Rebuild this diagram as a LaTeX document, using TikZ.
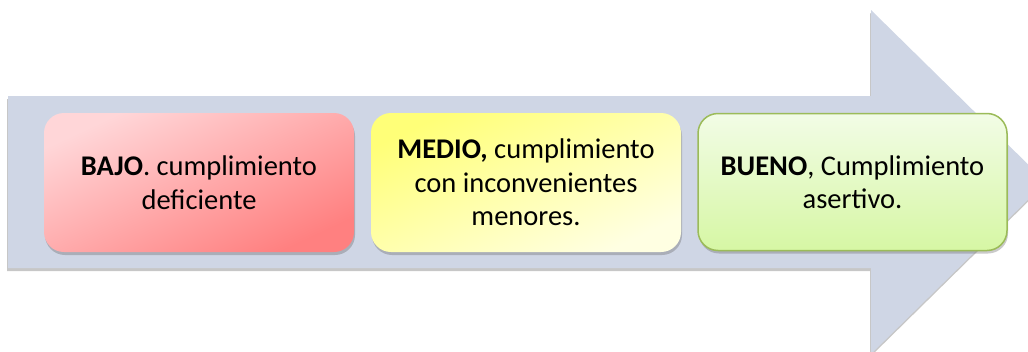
\documentclass[tikz,border=0pt]{standalone}
\usepackage{fontspec}
\setmainfont{Carlito}
\usetikzlibrary{shadows,calc}
\definecolor{arrowcol}{HTML}{CFD6E5}
\definecolor{redA}{HTML}{FFD6D8}
\definecolor{redB}{HTML}{FF8080}
\definecolor{yelA}{HTML}{FFFF78}
\definecolor{yelB}{HTML}{FFFFE2}
\definecolor{grnA}{HTML}{F2FCE6}
\definecolor{grnB}{HTML}{D6F7A4}
\definecolor{grnE}{HTML}{9BBB59}
\tikzset{
  x=1pt,y=-1pt,
  stagebox/.style={rounded corners=20pt, minimum width=310pt, minimum height=139pt,
    align=center, font=\fontsize{28.5}{33.5}\selectfont, inner sep=0pt,
    drop shadow={shadow xshift=1pt, shadow yshift=-3pt, opacity=0.35, fill=black!60}},
  bigarrow/.style={fill=arrowcol,
    drop shadow={shadow xshift=-1pt, shadow yshift=-3pt, opacity=0.4, fill=black!55}}
}
\begin{document}
\begin{tikzpicture}
\useasboundingbox (0,0) rectangle (1028,351);
\begin{scope}
\clip (0,0) rectangle (1028,351);
\path[bigarrow] (8,96) -- (871,96) -- (871,10) -- (1046,182) -- (871,354) -- (871,268) -- (8,268) -- cycle;
\end{scope}
\node[stagebox, top color=redA, bottom color=redB, shading angle=25] (bajo) at (199,182.5)
  {\textbf{BAJO}. cumplimiento\\deficiente};
\node[stagebox, top color=yelA, bottom color=yelB, shading angle=25] (medio) at (526,182.5)
  {\textbf{MEDIO,} cumplimiento\\con inconvenientes\\menores.};
\node[stagebox, top color=grnA, bottom color=grnB, draw=grnE, line width=1.5pt, minimum width=309pt, minimum height=137pt] (bueno) at (852.5,182)
  {\textbf{BUENO}, Cumplimiento\\asertivo.};
\end{tikzpicture}
\end{document}
